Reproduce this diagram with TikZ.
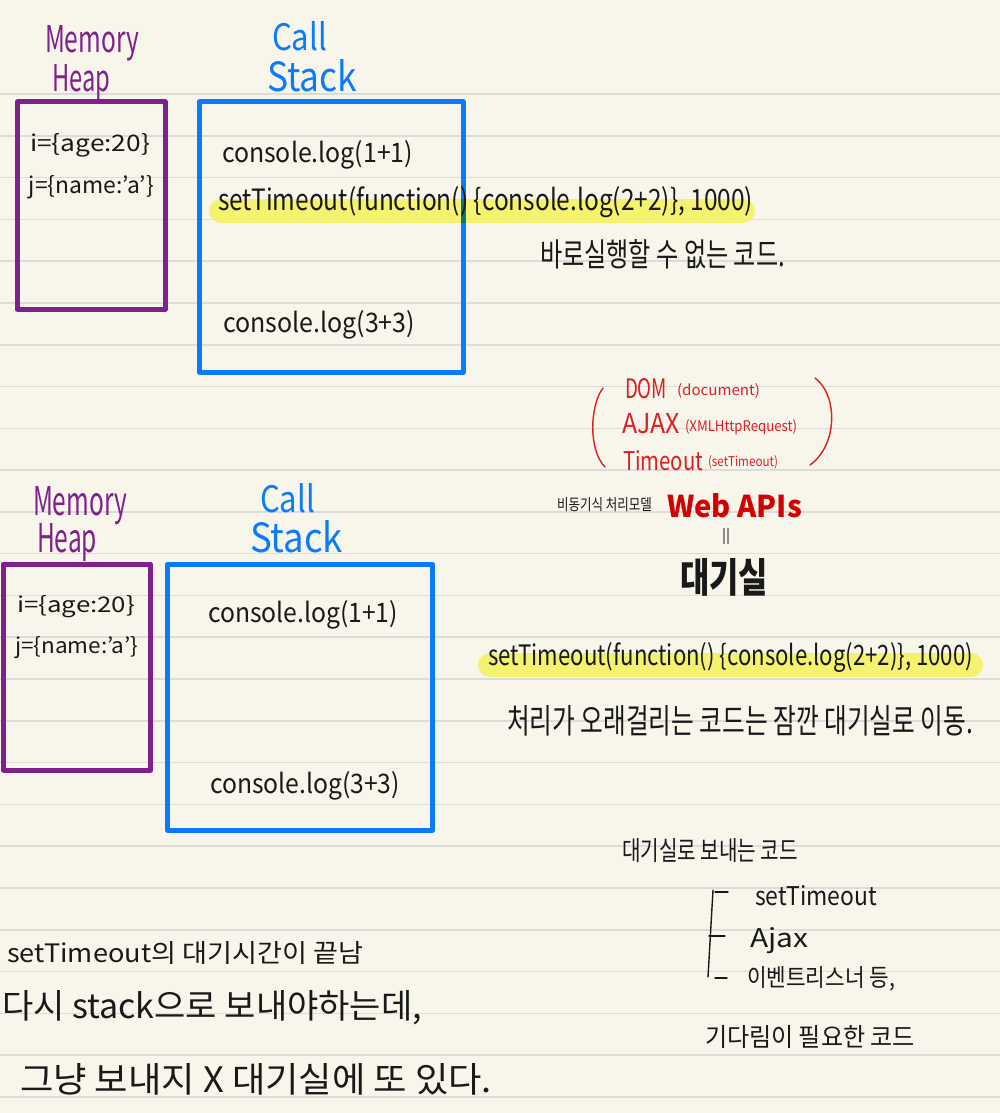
\documentclass[tikz,border=0pt]{standalone}
\usepackage{fontspec}
\setmainfont{Noto Sans CJK KR}
\usepackage{graphicx}
\definecolor{paper}{RGB}{248,246,235}
\definecolor{rulegray}{RGB}{220,220,218}
\definecolor{heappurple}{RGB}{128,32,140}
\definecolor{stackblue}{RGB}{10,122,255}
\definecolor{inkred}{RGB}{222,30,35}
\definecolor{webred}{RGB}{210,0,0}
\definecolor{hlyellow}{RGB}{244,242,110}
\definecolor{overlap}{RGB}{10,116,110}
\definecolor{ink}{RGB}{25,25,25}
\newcommand\fitwh[3]{\resizebox{#1pt}{#2pt}{#3}}
\tikzset{
  txt/.style={anchor=base west, inner sep=0pt, outer sep=0pt, text=ink},
  rulestyle/.style={draw=rulegray, line width=1.6pt},
  heapbox/.style={draw=heappurple, line width=5pt, line join=round},
  stackbox/.style={draw=stackblue, line width=5pt, line join=round},
  hilite/.style={draw=hlyellow, line width=24pt, line cap=round},
  redink/.style={draw=inkred, line width=1.4pt, line cap=round},
  blackink/.style={draw=ink, line width=1.4pt, line cap=round},
}
\begin{document}
\begin{tikzpicture}[x=1pt, y=-1pt]
\fill[paper] (0,0) rectangle (1000,1113);
\useasboundingbox (0,0) rectangle (1000,1113);
\foreach \k in {0,...,24} \draw[rulestyle] (0,{94+41.79*\k}) -- (1000,{94+41.79*\k});

% highlights
\draw[hilite] (221,211) -- (743,211);
\draw[hilite] (490,665) -- (971,665);

% ---------- top diagram ----------
\node[txt, text=heappurple] (mem1) at (45,53) {\fitwh{94}{27}{Memory}};
\node[txt, text=heappurple] (heap1) at (52,92) {\fitwh{58}{27}{Heap}};
\node[txt, text=stackblue] (call1) at (272,51) {\fitwh{55}{29}{Call}};
\node[txt, text=stackblue] (stack1) at (267,92) {\fitwh{90}{32}{Stack}};
\draw[heapbox] (17.5,102) rectangle (165,309);
\draw[stackbox] (199.5,102) rectangle (463,372);
\fill[overlap] (460.5,199) rectangle (465.5,223);
\node[txt] (i1) at (30,151) {\fitwh{120}{18}{i=\{age:20\}}};
\node[txt] (j1) at (29,193) {\fitwh{125}{18}{j=\{name:'a'\}}};
\node[txt] (c11) at (222,162) {\fitwh{191}{22}{console.log(1+1)}};
\node[txt] (st1) at (218,210) {\fitwh{535}{24}{setTimeout(function() \{console.log(2+2)\}, 1000)}};
\node[txt] (c31) at (223,332) {\fitwh{192}{22}{console.log(3+3)}};
\node[txt] (imm) at (540,266) {\fitwh{245}{27}{바로실행할 수 없는 코드.}};

% ---------- Web APIs ----------
\draw[redink] (603,388) .. controls (590,405) and (588,450) .. (605,467);
\draw[redink] (815,378) .. controls (838,395) and (838,445) .. (810,465);
\node[txt, text=inkred] (dom) at (625,398) {\fitwh{42}{20}{DOM}};
\node[txt, text=inkred] (domx) at (677,395) {\fitwh{83}{12}{(document)}};
\node[txt, text=inkred] (ajax) at (622,433) {\fitwh{58}{20}{AJAX}};
\node[txt, text=inkred] (ajaxx) at (685,431) {\fitwh{112}{12}{(XMLHttpRequest)}};
\node[txt, text=inkred] (tmo) at (623,470) {\fitwh{80}{20}{Timeout}};
\node[txt, text=inkred] (tmox) at (708,466) {\fitwh{70}{11}{(setTimeout)}};
\node[txt] (async) at (557,510) {\fitwh{95}{13}{비동기식 처리모델}};
\node[txt, text=webred] (web) at (667,517) {\fitwh{135}{24}{\bfseries Web APIs}};
\node[txt] (eq) at (722,540) {\fitwh{8}{12}{||}};
\node[txt] (wait) at (680,592) {\fitwh{88}{34}{\bfseries 대기실}};
\node[txt] (st2) at (488,665) {\fitwh{485}{23}{setTimeout(function() \{console.log(2+2)\}, 1000)}};
\node[txt] (move) at (507,733) {\fitwh{466}{28}{처리가 오래걸리는 코드는 잠깐 대기실로 이동.}};

% ---------- bottom diagram ----------
\node[txt, text=heappurple] (mem2) at (33,515) {\fitwh{94}{29}{Memory}};
\node[txt, text=heappurple] (heap2) at (37,552) {\fitwh{60}{29}{Heap}};
\node[txt, text=stackblue] (call2) at (260,512) {\fitwh{55}{29}{Call}};
\node[txt, text=stackblue] (stack2) at (250,552) {\fitwh{93}{32}{Stack}};
\draw[heapbox] (3.5,564) rectangle (150.5,770);
\draw[stackbox] (167.5,564) rectangle (432.5,830);
\node[txt] (i2) at (17,612) {\fitwh{118}{17}{i=\{age:20\}}};
\node[txt] (j2) at (15,653) {\fitwh{123}{17}{j=\{name:'a'\}}};
\node[txt] (c12) at (208,622) {\fitwh{190}{22}{console.log(1+1)}};
\node[txt] (c32) at (210,793) {\fitwh{190}{22}{console.log(3+3)}};

% ---------- right notes ----------
\node[txt] (send) at (622,860) {\fitwh{176}{22}{대기실로 보내는 코드}};
\draw[blackink] (713,890) -- (708,977);
\draw[blackink] (715,892) -- (728,892);
\draw[blackink] (709,936) -- (725,936);
\draw[blackink] (715,978) -- (727,978);
\node[txt] (l1) at (755,905) {\fitwh{122}{20}{setTimeout}};
\node[txt] (l2) at (750,947) {\fitwh{58}{20}{Ajax}};
\node[txt] (l3) at (747,986) {\fitwh{148}{20}{이벤트리스너 등,}};
\node[txt] (need) at (705,1046) {\fitwh{210}{21}{기다림이 필요한 코드}};

% ---------- bottom-left notes ----------
\node[txt] (n1) at (7,962) {\fitwh{356}{21}{setTimeout의 대기시간이 끝남}};
\node[txt] (n2) at (2,1018) {\fitwh{420}{28}{다시 stack으로 보내야하는데,}};
\node[txt] (n3) at (20,1092) {\fitwh{472}{29}{그냥 보내지 X 대기실에 또 있다.}};
\end{tikzpicture}
\end{document}
